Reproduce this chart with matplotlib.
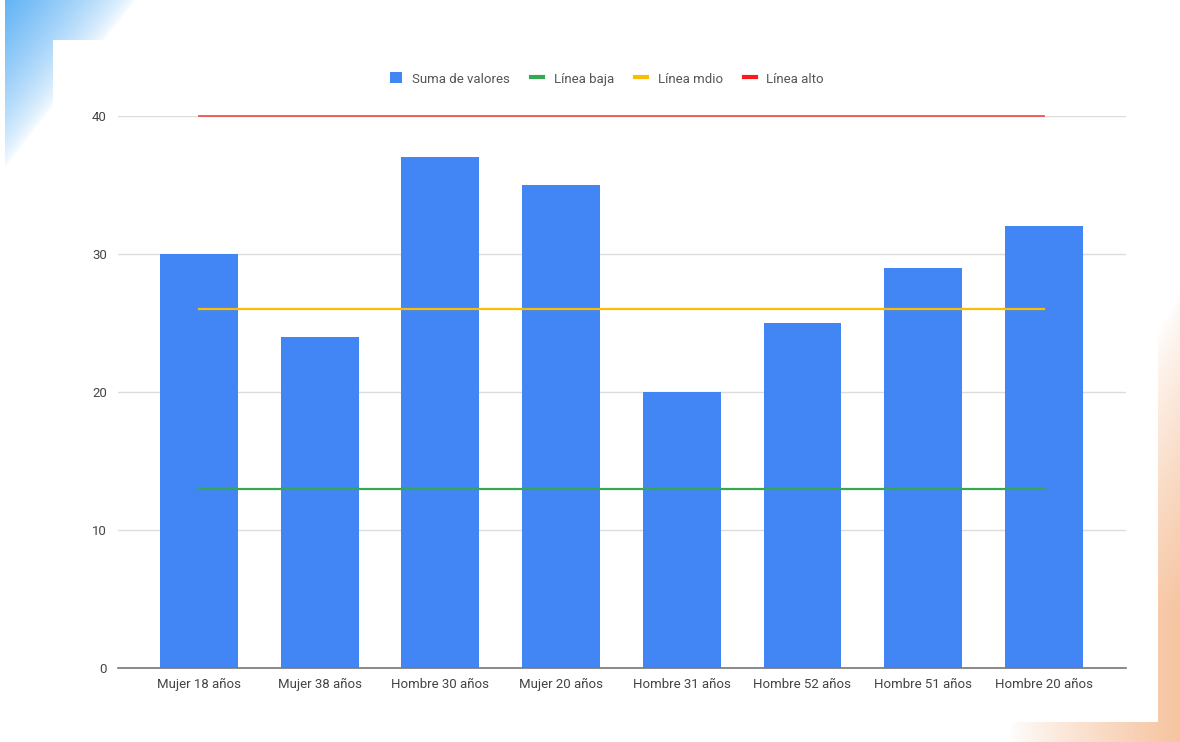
import numpy as np
import matplotlib
matplotlib.use("Agg")
import matplotlib.pyplot as plt
from matplotlib.patches import Patch, Rectangle
from matplotlib.lines import Line2D

categorias = ["Mujer 18 años", "Mujer 38 años", "Hombre 30 años", "Mujer 20 años",
              "Hombre 31 años", "Hombre 52 años", "Hombre 51 años", "Hombre 20 años"]
valores = [30, 24, 37, 35, 20, 25, 29, 32]
linea_baja = 13
linea_mdio = 26
linea_alto = 40
y_ticks = [0, 10, 20, 30, 40]

plt.rcParams['font.family'] = ['Roboto', 'DejaVu Sans']

W, H = 1180, 742
fig = plt.figure(figsize=(W / 100, H / 100), dpi=100)
fig.patch.set_facecolor('white')

# decorative background (gradient corners + white card)
bg = fig.add_axes([0, 0, 1, 1])
bg.set_xlim(0, W)
bg.set_ylim(H, 0)
bg.axis('off')
xx, yy = np.meshgrid(np.arange(W), np.arange(H))

a_blue = np.clip(1 - (xx + yy * 0.78) / 135.0, 0, 1) ** 0.7 * (xx >= 5)
a_orange = np.clip(1 - ((W - xx) / 170.0 + np.maximum(0, 610 - yy) / 320.0), 0, 1) ** 0.8

img = np.ones((H, W, 3))
blue = np.array([95, 178, 245]) / 255.0
orange = np.array([246, 196, 160]) / 255.0
img = img * (1 - a_blue[..., None]) + blue * a_blue[..., None]
img = img * (1 - a_orange[..., None]) + orange * a_orange[..., None]
bg.imshow(img, extent=(0, W, H, 0), aspect='auto', interpolation='bilinear')
bg.add_patch(Rectangle((53, 40), 1158 - 53, 722 - 40, facecolor='white', edgecolor='none'))

# chart
ax = fig.add_axes([118 / W, 74 / H, (1126 - 118) / W, 552 / H])
ax.set_facecolor('none')
x = np.arange(len(categorias))
ax.bar(x, valores, width=0.645, color='#4285F4', zorder=2)

ax.plot([x[0], x[-1]], [linea_baja] * 2, color='#34A853', lw=1.6, zorder=3, clip_on=False)
ax.plot([x[0], x[-1]], [linea_mdio] * 2, color='#FBBC04', lw=1.6, zorder=3, clip_on=False)
ax.plot([x[0], x[-1]], [linea_alto] * 2, color='#EF5350', lw=1.3, zorder=3, clip_on=False)

ax.set_xlim(-0.67, len(categorias) - 1 + 0.68)
ax.set_ylim(0, 40)
ax.set_yticks(y_ticks)
ax.set_xticks(x)
ax.set_xticklabels(categorias)
ax.yaxis.grid(True, color='#dcdcdc', lw=1, zorder=0)
ax.set_axisbelow(True)
for s in ['top', 'right', 'left']:
    ax.spines[s].set_visible(False)
ax.spines['bottom'].set_color('#777777')
ax.spines['bottom'].set_linewidth(1.2)
ax.spines['bottom'].set_zorder(4)
ax.tick_params(axis='both', length=0, labelsize=9.5, colors='#444444')
ax.tick_params(axis='x', pad=7)
ax.tick_params(axis='y', pad=8)

handles = [
    Patch(facecolor='#4285F4', edgecolor='none'),
    Line2D([], [], color='#34A853', lw=3),
    Line2D([], [], color='#FBBC04', lw=3),
    Line2D([], [], color='#FF1A1A', lw=3),
]
labels = ["Suma de valores", "Línea baja", "Línea mdio", "Línea alto"]
leg = fig.legend(handles, labels, loc='center', ncol=4, frameon=False,
                 bbox_to_anchor=(607 / W, 1 - 79 / H), fontsize=9.5,
                 handlelength=0.9, handleheight=0.9, handletextpad=0.8,
                 columnspacing=1.6)
for t in leg.get_texts():
    t.set_color('#555555')

fig.savefig('out.png', dpi=100)
